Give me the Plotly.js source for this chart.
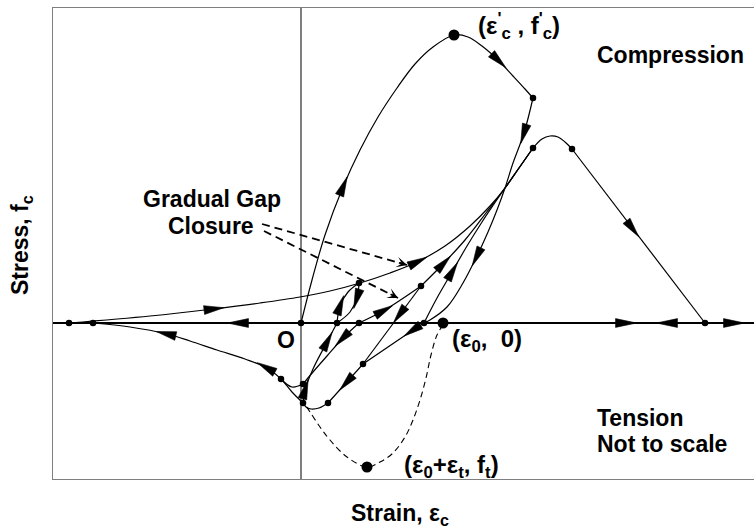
<!DOCTYPE html>
<html>
<head>
<meta charset="utf-8">
<script src="https://cdn.plot.ly/plotly-3.0.1.min.js"></script>
<style>
  html, body { margin: 0; padding: 0; background: #fff; }
  #chart { width: 754px; height: 530px; }
</style>
</head>
<body>
<div id="chart"></div>
<script>
// Schematic cyclic stress-strain paths (strain / stress in arbitrary, not-to-scale units)

// Compression envelope: origin -> peak (eps'c, f'c) -> softening
const envelopeStrain = [0, 0.11, 0.24, 0.42, 0.59, 0.77, 0.96, 1.14, 1.32, 1.53, 1.67, 1.81, 1.97, 2.12, 2.24, 2.32];
const envelopeStress = [0, 0.43, 0.88, 1.36, 1.73, 2.06, 2.35, 2.59, 2.76, 2.88, 2.86, 2.77, 2.63, 2.47, 2.34, 2.25];

// Unloading from the envelope down to zero stress
const unloadStrain = [2.32, 2.23, 2.12, 2.04, 1.96, 1.87, 1.76, 1.62, 1.46, 1.29, 1.23];
const unloadStress = [2.25, 1.90, 1.60, 1.35, 1.13, 0.91, 0.67, 0.40, 0.16, 0.03, 0];

// Continued unloading into tension
const tensionUnloadStrain = [1.23, 1.12, 0.62, 0.46, 0.27];
const tensionUnloadStress = [0, -0.07, -0.41, -0.59, -0.80];

const dipStrain = [0.27, 0.18, 0.10, 0.05, 0.02];
const dipStress = [-0.80, -0.85, -0.86, -0.84, -0.80];

// Tension softening towards the open-crack strain
const softenStrain = [0.02, -0.09, -0.20, -0.34, -0.56, -0.84, -1.11, -1.34, -1.71, -2.08];
const softenStress = [-0.80, -0.69, -0.56, -0.45, -0.36, -0.27, -0.18, -0.11, -0.04, 0];

const hookStrain = [-0.20, -0.09, 0.02];
const hookStress = [-0.56, -0.64, -0.61];

// Reloading from the far tension side back to the compression envelope
const longReloadStrain = [-2.32, -1.51, -0.88, -0.41, -0.01, 0.29, 0.59, 0.89, 1.16, 1.44, 1.69, 1.89, 2.04, 2.18, 2.32];
const longReloadStress = [0, 0.07, 0.14, 0.20, 0.26, 0.32, 0.40, 0.50, 0.61, 0.77, 0.97, 1.17, 1.35, 1.55, 1.75];

const reloadAStrain = [1.23, 1.36, 1.51, 1.66, 1.81, 1.93, 2.04, 2.18, 2.32];
const reloadAStress = [0, 0.25, 0.51, 0.77, 1.01, 1.19, 1.35, 1.55, 1.75];

const reloadBStrain = [1.20, 1.42, 1.64, 1.85, 2.04, 2.18, 2.32];
const reloadBStress = [0.37, 0.59, 0.83, 1.10, 1.35, 1.55, 1.75];

const reloadCStrain = [0.58, 0.82, 1.01, 1.20];
const reloadCStress = [0, 0.12, 0.24, 0.37];

const unloadBStrain = [1.20, 0.99, 0.62];
const unloadBStress = [0.37, 0.09, -0.41];

// Small partial loop near the origin
const loopUpStrain = [0.36, 0.39, 0.47, 0.58];
const loopUpStress = [0, 0.17, 0.31, 0.40];
const loopDownStrain = [0.58, 0.56, 0.49, 0.36];
const loopDownStress = [0.40, 0.25, 0.11, 0];

const reloadDStrain = [0.02, 0.04, 0.12, 0.26, 0.36];
const reloadDStress = [-0.80, -0.67, -0.46, -0.19, 0];

const unloadDStrain = [0.58, 0.42, 0.26, 0.12, 0.02];
const unloadDStress = [0, -0.15, -0.33, -0.49, -0.61];

// Second compression envelope (after reloading) and its softening branch
const envelope2Strain = [2.32, 2.41, 2.49, 2.57, 2.64, 2.71];
const envelope2Stress = [1.75, 1.84, 1.87, 1.86, 1.81, 1.74];
const soften2Strain = [2.71, 3.31, 4.04];
const soften2Stress = [1.74, 0.95, 0];

// Tension envelope (shifted by eps0), drawn dashed
const tensionEnvStrain = [1.42, 1.36, 1.30, 1.25, 1.19, 1.12, 1.04, 0.92, 0.79, 0.66, 0.46, 0.29, 0.19, 0.09, 0.05];
const tensionEnvStress = [-0.02, -0.12, -0.32, -0.55, -0.77, -0.97, -1.14, -1.30, -1.39, -1.44, -1.34, -1.17, -1.04, -0.89, -0.83];

// Key points
const smallDotStrain = [-2.32, -2.08, 0, 0.36, 0.58, 1.23, 4.04, 2.32, 2.32, 2.71, 0.58, 1.20, 0.62, 0.27, 0.02, 0.02, -0.20];
const smallDotStress = [0, 0, 0, 0, 0, 0, 0, 2.25, 1.75, 1.74, 0.40, 0.37, -0.41, -0.80, -0.80, -0.61, -0.56];
const bigDotStrain = [1.53, 1.42, 0.66];
const bigDotStress = [2.88, 0, -1.44];

// Direction arrows riding on the zero-stress axis
const axisArrowStrain = [-0.62, 3.24, 3.67, 4.32];
const axisArrowSense = [-1, 1, -1, 1];

// "Gradual Gap Closure" pointers
const pointerFromStrain = [-0.39, -0.37];
const pointerFromStress = [0.99, 0.92];
const pointerToStrain = [1.06, 0.97];
const pointerToStress = [0.58, 0.25];

const BLACK = '#000';
const FRAME = '#7f7f7f';
const FONT = 'Liberation Sans, Arial, Helvetica, sans-serif';

const paths = [
  {x: envelopeStrain, y: envelopeStress, shape: 'spline', arrows: [[3, 1], [12, 1]]},
  {x: unloadStrain, y: unloadStress, shape: 'spline', arrows: [[1, 1], [6, 1]]},
  {x: tensionUnloadStrain, y: tensionUnloadStress, shape: 'linear', arrows: [[1, 1], [3, 1]]},
  {x: dipStrain, y: dipStress, shape: 'spline', arrows: []},
  {x: softenStrain, y: softenStress, shape: 'spline', arrows: [[3, 1], [7, 1]]},
  {x: hookStrain, y: hookStress, shape: 'spline', arrows: []},
  {x: longReloadStrain, y: longReloadStress, shape: 'spline', arrows: [[2, 1], [8, 1]]},
  {x: reloadAStrain, y: reloadAStress, shape: 'spline', arrows: [[2, 1]]},
  {x: reloadBStrain, y: reloadBStress, shape: 'spline', arrows: [[1, 1]]},
  {x: reloadCStrain, y: reloadCStress, shape: 'spline', arrows: [[1, 1]]},
  {x: unloadBStrain, y: unloadBStress, shape: 'linear', arrows: [[1, 1]]},
  {x: loopUpStrain, y: loopUpStress, shape: 'spline', arrows: [[1, 1]]},
  {x: loopDownStrain, y: loopDownStress, shape: 'spline', arrows: [[1, 1]]},
  {x: reloadDStrain, y: reloadDStress, shape: 'spline', arrows: [[1, 1], [3, 1]]},
  {x: unloadDStrain, y: unloadDStress, shape: 'spline', arrows: [[1, 1]]},
  {x: envelope2Strain, y: envelope2Stress, shape: 'spline', arrows: []},
  {x: soften2Strain, y: soften2Stress, shape: 'linear', arrows: [[1, 1]]}
];

const traces = [];

paths.forEach(p => {
  traces.push({
    x: p.x, y: p.y, type: 'scatter', mode: 'lines',
    line: {color: BLACK, width: 1.2, shape: p.shape, smoothing: 1},
    hoverinfo: 'skip'
  });
});

// filled slender arrowheads, oriented along the local tangent of each path
const arrowX = [], arrowY = [];
function addArrow(cx, cy, dx, dy, len, wid) {
  const n = Math.hypot(dx, dy);
  const ux = dx / n, uy = dy / n, nx = -uy, ny = ux;
  const tx = cx + ux * len * 0.55, ty = cy + uy * len * 0.55;
  const bx = cx - ux * len * 0.45, by = cy - uy * len * 0.45;
  arrowX.push(tx, bx + nx * wid / 2, bx - nx * wid / 2, tx, null);
  arrowY.push(ty, by + ny * wid / 2, by - ny * wid / 2, ty, null);
}
paths.forEach(p => {
  const n = p.x.length;
  p.arrows.forEach(([i, sense]) => {
    const a = Math.max(i - 1, 0), b = Math.min(i + 1, n - 1);
    addArrow(p.x[i], p.y[i], sense * (p.x[b] - p.x[a]), sense * (p.y[b] - p.y[a]), 0.2, 0.088);
  });
});
axisArrowStrain.forEach((s, k) => addArrow(s, 0, axisArrowSense[k], 0, 0.21, 0.088));

traces.push({
  x: tensionEnvStrain, y: tensionEnvStress, type: 'scatter', mode: 'lines',
  line: {color: BLACK, width: 1.1, dash: '6px,4px', shape: 'spline'},
  hoverinfo: 'skip'
});

pointerFromStrain.forEach((s, k) => {
  traces.push({
    x: [s, pointerToStrain[k]], y: [pointerFromStress[k], pointerToStress[k]],
    type: 'scatter', mode: 'lines',
    line: {color: BLACK, width: 1.8, dash: '8px,5px'},
    hoverinfo: 'skip'
  });
});

traces.push({
  x: arrowX, y: arrowY, type: 'scatter', mode: 'lines', fill: 'toself',
  fillcolor: BLACK, line: {color: BLACK, width: 0.6}, connectgaps: false,
  hoverinfo: 'skip'
});

traces.push({
  x: smallDotStrain, y: smallDotStress, type: 'scatter', mode: 'markers',
  marker: {color: BLACK, size: 6.5}, hoverinfo: 'skip'
});
traces.push({
  x: bigDotStrain, y: bigDotStress, type: 'scatter', mode: 'markers',
  marker: {color: BLACK, size: 11}, hoverinfo: 'skip'
});

const txt = (text, x, y, opts) => Object.assign({
  text, x, y, xref: 'x', yref: 'y', showarrow: false,
  xanchor: 'left', yanchor: 'middle',
  font: {family: FONT, size: 23, color: BLACK, weight: 'bold'}
}, opts || {});
const pointFont = {family: FONT, size: 24, color: BLACK, weight: 'bold'};

const annotations = [
  txt('Compression', 2.94, 2.68),
  txt('Tension', 2.94, -0.95),
  txt('Not to scale', 2.94, -1.21),
  txt('Gradual Gap', -0.89, 1.24, {xanchor: 'center'}),
  txt('Closure', -0.90, 0.97, {xanchor: 'center'}),
  txt('O', -0.15, -0.17, {xanchor: 'center'}),
  txt('(ε<sub>0</sub>,  0)', 1.49, -0.17, {font: pointFont}),
  txt("(ε<sup>'</sup><sub>c</sub> , f<sup>'</sup><sub>c</sub>)", 1.75, 2.97, {font: pointFont}),
  txt('(ε<sub>0</sub>+ε<sub>t</sub>, f<sub>t</sub>)', 1.01, -1.43, {font: pointFont}),
  {
    text: 'Strain, ε<sub>c</sub>', xref: 'paper', yref: 'paper', x: 0.495, y: -0.076,
    showarrow: false, xanchor: 'center', yanchor: 'middle',
    font: {family: FONT, size: 23, color: BLACK, weight: 'bold'}
  },
  {
    text: 'Stress, f<sub>c</sub>', xref: 'paper', yref: 'paper', x: -0.044, y: 0.497,
    showarrow: false, xanchor: 'center', yanchor: 'middle', textangle: -90,
    font: {family: FONT, size: 23, color: BLACK, weight: 'bold'}
  }
];

// barbed heads at the ends of the dashed pointers
pointerFromStrain.forEach((s, k) => {
  const dx = pointerToStrain[k] - s, dy = pointerToStress[k] - pointerFromStress[k];
  const n = Math.hypot(dx, dy);
  annotations.push({
    x: pointerToStrain[k], y: pointerToStress[k], xref: 'x', yref: 'y',
    ax: -dx / n * 10, ay: dy / n * 10, text: '', showarrow: true,
    arrowhead: 3, arrowsize: 1.1, arrowwidth: 1.6, arrowcolor: BLACK, standoff: 0
  });
});

const layout = {
  width: 754, height: 530,
  margin: {l: 53, r: 0, t: 8, b: 51},
  paper_bgcolor: '#fff', plot_bgcolor: '#fff',
  showlegend: false,
  xaxis: {
    range: [-2.48, 4.53], showgrid: false, zeroline: true, zerolinecolor: FRAME, zerolinewidth: 1.3,
    showline: true, mirror: true, linecolor: FRAME, linewidth: 1.3,
    showticklabels: false, ticks: '', fixedrange: true
  },
  yaxis: {
    range: [-1.56, 3.15], showgrid: false, zeroline: true, zerolinecolor: BLACK, zerolinewidth: 1.3,
    showline: true, mirror: false, linecolor: FRAME, linewidth: 1.3,
    showticklabels: false, ticks: '', fixedrange: true
  },
  annotations
};

Plotly.newPlot('chart', traces, layout, {displayModeBar: false, staticPlot: true});
</script>
</body>
</html>
